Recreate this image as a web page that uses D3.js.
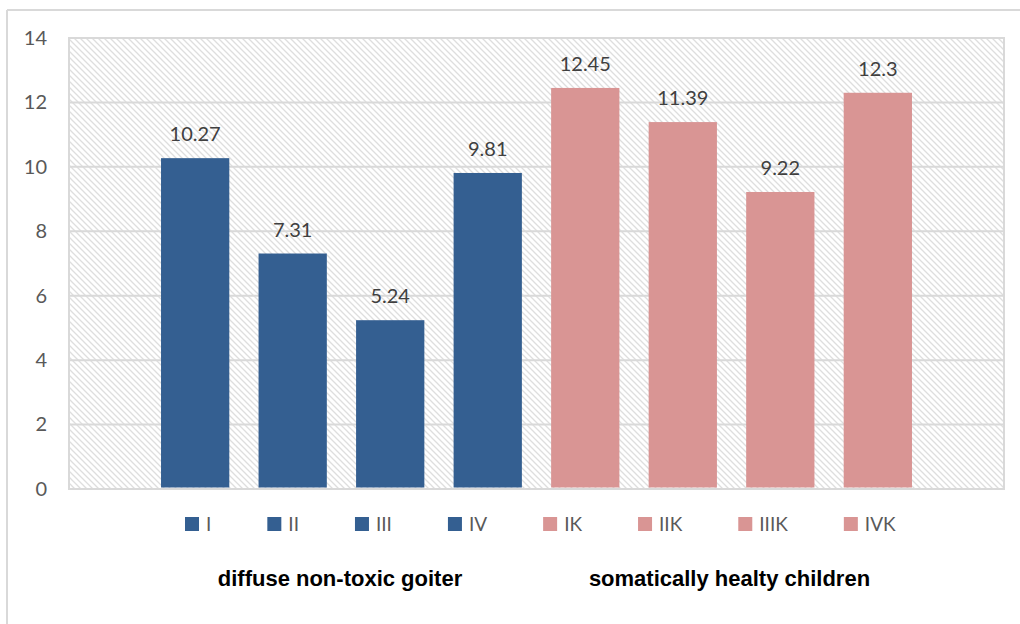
<!DOCTYPE html>
<html><head><meta charset="utf-8">
<script src="https://cdn.jsdelivr.net/npm/d3@7"></script>
<style>body{margin:0;background:#fff}svg{display:block}</style>
</head><body>
<svg id="c" width="1020" height="624"></svg>
<script>
const categories = ["I","II","III","IV","IK","IIK","IIIK","IVK"];
const values = [10.27,7.31,5.24,9.81,12.45,11.39,9.22,12.3];
const groups = ["diffuse","diffuse","diffuse","diffuse","healthy","healthy","healthy","healthy"];
const groupLabels = ["diffuse non-toxic goiter","somatically healty children"];
const yTicks = [0,2,4,6,8,10,12,14];

const colors = {diffuse:"#345f91", healthy:"#d99594"};
const svg = d3.select("#c");
const W=1020,H=624;
const plot = {l:69,r:1004,t:38,b:489};
const numFont = "Lato, 'Open Sans', sans-serif";

// outer frame
svg.append("line").attr("x1",7).attr("x2",W).attr("y1",10).attr("y2",10).attr("stroke","#d9d9d9").attr("stroke-width",2);
svg.append("line").attr("x1",7).attr("x2",7).attr("y1",10).attr("y2",H).attr("stroke","#d9d9d9").attr("stroke-width",2);

// hatch pattern
const defs = svg.append("defs");
const pat = defs.append("pattern").attr("id","hatch").attr("patternUnits","userSpaceOnUse")
  .attr("width",6).attr("height",6);
pat.append("rect").attr("width",6).attr("height",6).attr("fill","#fff");
pat.append("path").attr("d","M-1,-1 L7,7 M-1,5 L1,7 M5,-1 L7,1").attr("stroke","#dedede").attr("stroke-width",1.3);

const y = d3.scaleLinear().domain([0,14]).range([plot.b,plot.t]);
const x = d3.scaleBand().domain(categories).range([146.4,926.6]).paddingInner(0.3).paddingOuter(0.15);

svg.append("rect").attr("x",plot.l).attr("y",plot.t).attr("width",plot.r-plot.l).attr("height",plot.b-plot.t)
  .attr("fill","url(#hatch)");

// gridlines
svg.append("g").selectAll("line").data(yTicks).join("line")
  .attr("x1",plot.l).attr("x2",plot.r).attr("y1",d=>y(d)).attr("y2",d=>y(d))
  .attr("stroke","#d9d9d9").attr("stroke-width",2);
// plot border
svg.append("rect").attr("x",plot.l).attr("y",plot.t).attr("width",plot.r-plot.l).attr("height",plot.b-plot.t)
  .attr("fill","none").attr("stroke","#d9d9d9").attr("stroke-width",2);

// y axis labels
const yAxis = d3.axisLeft(y).tickValues(yTicks).tickSize(0).tickPadding(0);
const ga = svg.append("g").attr("transform",`translate(47,0)`).call(yAxis);
ga.select(".domain").remove();
ga.selectAll("text").attr("font-family",numFont).attr("font-size",20).attr("fill","#595959");

// bars
svg.append("g").selectAll("rect").data(categories).join("rect")
  .attr("x",d=>x(d)).attr("width",x.bandwidth())
  .attr("y",(d,i)=>y(values[i])).attr("height",(d,i)=>y(0)-y(values[i])-1.5)
  .attr("fill",(d,i)=>colors[groups[i]]);

// data labels
svg.append("g").selectAll("text").data(categories).join("text")
  .attr("x",d=>x(d)+x.bandwidth()/2).attr("y",(d,i)=>y(values[i])-17)
  .attr("text-anchor","middle").attr("font-family",numFont).attr("font-size",20).attr("fill","#404040")
  .text((d,i)=>values[i]);

// legend
const leg = svg.append("g");
let lx = 185;
categories.forEach((c,i)=>{
  const g = leg.append("g").attr("transform",`translate(${lx},517)`);
  g.append("rect").attr("width",14).attr("height",14).attr("fill",colors[groups[i]]);
  const t = g.append("text").attr("x",21).attr("y",13.5).attr("font-family",numFont)
    .attr("font-size",19).attr("fill","#595959").text(c);
  const w = t.node().getComputedTextLength();
  lx += 21 + w + 56;
});

// group labels
svg.append("g").selectAll("text").data(groupLabels).join("text")
  .attr("x",(d,i)=>[340,729.5][i]).attr("y",586).attr("text-anchor","middle")
  .attr("font-family","'Liberation Sans', Arial, sans-serif").attr("font-weight","bold").attr("font-size",22).attr("fill","#000")
  .text(d=>d);
</script>
</body></html>
